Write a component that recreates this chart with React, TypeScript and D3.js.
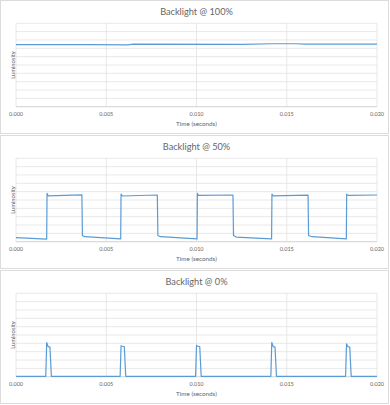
import React from "react";
import * as d3 from "d3";

const titles = ["Backlight @ 100%", "Backlight @ 50%", "Backlight @ 0%"];
const xTicks = [0, 0.005, 0.01, 0.015, 0.02];
const yGrid = [0, 1, 2, 3, 4, 5, 6, 7, 8, 9, 10];
const xLabel = "Time (seconds)";
const yLabel = "Luminosity";

// [time (s), luminosity]
const full: [number, number][] = [
  [0, 7.45], [0.004, 7.45], [0.0062, 7.42], [0.0065, 7.5], [0.0125, 7.48],
  [0.0142, 7.55], [0.0155, 7.55], [0.016, 7.5], [0.02, 7.5],
];

const half: [number, number][] = [
  [0, 0.5], [0.0017, 0.32], [0.00172, 5.8], [0.00178, 5.5], [0.00365, 5.62],
  [0.00368, 0.75], [0.0038, 0.6], [0.0058, 0.33], [0.00582, 5.7], [0.0059, 5.48], [0.00783, 5.6],
  [0.00786, 0.75], [0.008, 0.6], [0.01003, 0.33], [0.01005, 5.8], [0.0101, 5.55], [0.01202, 5.6],
  [0.01205, 0.75], [0.0122, 0.55], [0.01416, 0.33], [0.01418, 5.7], [0.01425, 5.5], [0.01618, 5.58],
  [0.01621, 0.75], [0.0164, 0.6], [0.0183, 0.33], [0.01832, 5.7], [0.0184, 5.55], [0.02, 5.6],
];

const zero: [number, number][] = [
  [0, 0.05],
  [0.00165, 0.05], [0.0017, 4.1], [0.00178, 3.6], [0.00188, 3.55], [0.00196, 0.05],
  [0.00577, 0.05], [0.00582, 3.7], [0.0059, 3.65], [0.006, 3.6], [0.00608, 0.05],
  [0.00995, 0.05], [0.01, 3.75], [0.01008, 3.65], [0.01018, 3.6], [0.01026, 0.05],
  [0.01412, 0.05], [0.01417, 4.1], [0.01425, 3.6], [0.01435, 3.55], [0.01443, 0.05],
  [0.01826, 0.05], [0.01831, 3.95], [0.01839, 3.6], [0.01849, 3.55], [0.01857, 0.05],
  [0.02, 0.05],
];

const seriesList = [full, half, zero];

const W = 390;
const PANEL_H = 135;
const PL = 16, PR = 377, PT = 23.3, PB = 106.7;
const FONT = "Lato, 'Open Sans', sans-serif";
const TEXT = "#666666";
const GRID = "#e2e2e2";
const LINE = "#5B9BD5";

function Panel({ idx }: { idx: number }) {
  const x = d3.scaleLinear().domain([0, 0.02]).range([PL, PR]);
  const y = d3.scaleLinear().domain([0, 10]).range([PB, PT]);
  const line = d3.line<[number, number]>().x((d) => x(d[0])).y((d) => y(d[1]));
  const data = seriesList[idx];
  return (
    <g transform={`translate(0,${idx * PANEL_H})`}>
      <rect x={0.5} y={0.5} width={W - 2} height={PANEL_H - 2} fill="#fff" stroke="#dcdcdc" />
      <text x={(PL + PR) / 2} y={15} textAnchor="middle" fontSize={9.2} fill={TEXT} fontFamily={FONT}>
        {titles[idx]}
      </text>
      {yGrid.map((v) => (
        <line key={"h" + v} x1={PL} x2={PR} y1={y(v)} y2={y(v)} stroke={GRID} strokeWidth={0.8} />
      ))}
      {xTicks.map((t) => (
        <line key={"v" + t} x1={x(t)} x2={x(t)} y1={PT} y2={PB} stroke={GRID} strokeWidth={0.8} />
      ))}
      <line x1={PL} x2={PR} y1={PB} y2={PB} stroke="#cfcfcf" strokeWidth={0.8} />
      {xTicks.map((t) => (
        <text key={"t" + t} x={x(t)} y={PB + 9} textAnchor="middle" fontSize={5.5} fill={TEXT} fontFamily={FONT}>
          {d3.format(".3f")(t)}
        </text>
      ))}
      <text x={(PL + PR) / 2} y={PB + 19} textAnchor="middle" fontSize={6.3} fill={TEXT} fontFamily={FONT}>
        {xLabel}
      </text>
      <text
        transform={`translate(14.5,${(PT + PB) / 2}) rotate(-90)`}
        textAnchor="middle"
        fontSize={5.8}
        fill={TEXT}
        fontFamily={FONT}
      >
        {yLabel}
      </text>
      <path d={line(data) || ""} fill="none" stroke={LINE} strokeWidth={1.2} strokeLinejoin="round" />
    </g>
  );
}

export default function App() {
  return (
    <svg width={W} height={405} style={{ position: "absolute", left: 0, top: 0, background: "#fff" }}>
      {[0, 1, 2].map((i) => (
        <Panel key={i} idx={i} />
      ))}
    </svg>
  );
}
